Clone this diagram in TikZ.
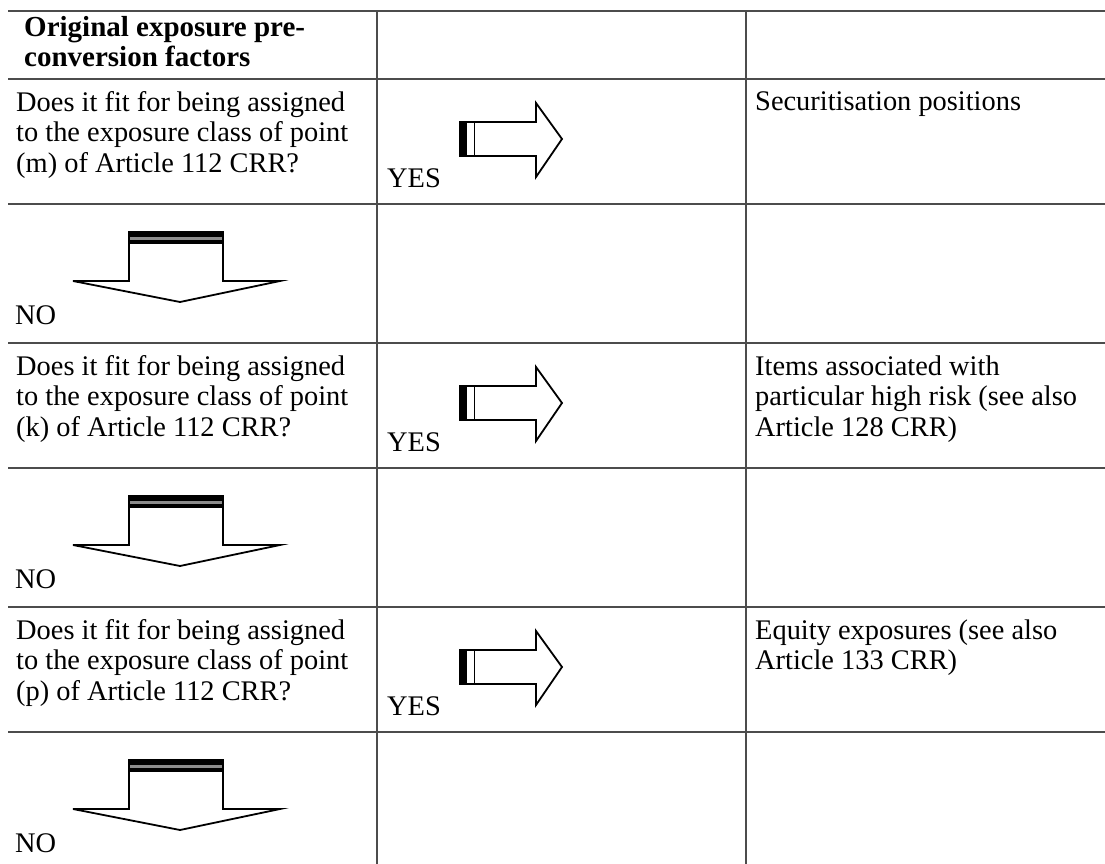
\documentclass[tikz,border=0pt]{standalone}
\usepackage{fontspec}
\setmainfont{Liberation Serif}
\begin{document}
\begin{tikzpicture}[x=1pt,y=-1pt,
  grid/.style={draw=black!70,line width=1.4pt},
  txt/.style={inner sep=0pt,anchor=base west,align=left,font=\fontsize{28.4}{30.5}\selectfont},
  hdr/.style={txt,font=\fontsize{29}{30}\selectfont\bfseries},
  arr/.style={draw=black,line width=1.8pt,line join=miter,fill=white}]
\useasboundingbox (0,0) rectangle (1105,864);
% table rules
\foreach \y in {11,79,204,343,468,607,732}
  \draw[grid] (8,\y) -- (1105,\y);
\draw[grid] (377,11) -- (377,864);
\draw[grid] (746,11) -- (746,864);
% header (base anchor = baseline of the last line)
\node[hdr] (h) at (24,67) {Original exposure pre-\\conversion factors};
% rows
\foreach \k/\l/\ry/\r in {0/m/111/{Securitisation positions},
                       1/k/172/{Items associated with\\particular high risk (see also\\Article 128 CRR)},
                       2/p/141.5/{Equity exposures (see also\\Article 133 CRR)}}{
  \begin{scope}[yshift={-264*\k}]
    \node[txt] (q\k) at (16,172) {Does it fit for being assigned\\to the exposure class of point\\(\l) of Article 112 CRR?};
    \node[txt] (yes\k) at (387,187) {YES};
    \node[txt] (res\k) at (755,\ry) {\r};
    % right arrow
    \draw[arr] (460,122) -- (536,122) -- (536,103) -- (562,139) -- (536,177) -- (536,156) -- (460,156) -- cycle;
    \fill[black] (459,121) rectangle (466.5,157);
    \draw[black,line width=1.8pt] (474.5,122) -- (474.5,156);
    % NO row
    \node[txt] (no\k) at (15,324) {NO};
    \draw[arr] (129,232) -- (223,232) -- (223,281) -- (280,281) -- (180,302) -- (73,281) -- (129,281) -- cycle;
    \fill[black] (128,231) rectangle (224,244);
    \fill[black!45] (130,236.5) rectangle (222,240);
  \end{scope}
}
\end{tikzpicture}
\end{document}
